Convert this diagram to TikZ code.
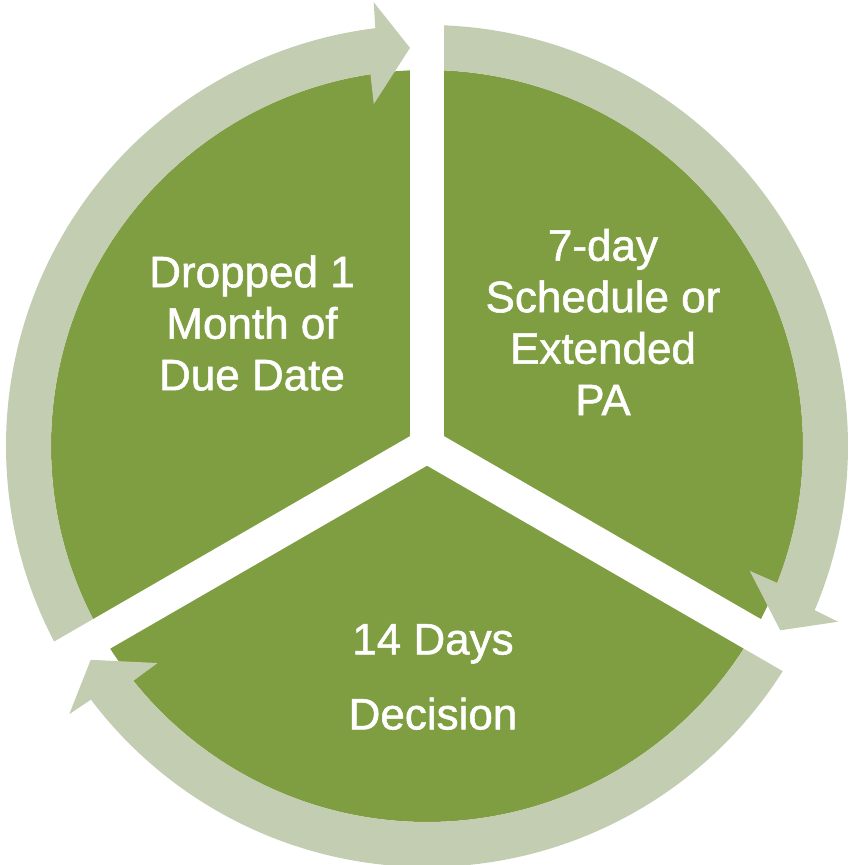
\documentclass[tikz,border=0pt]{standalone}
\usepackage{fontspec}
\setmainfont{Liberation Sans}
\newfontfamily\labelfont{Liberation Sans}[FakeBold=1.2]
\definecolor{cyclegreen}{RGB}{127, 158, 65}
\definecolor{ringgray}{RGB}{194, 205, 178}
\usepackage{tikz}
\usetikzlibrary{calc}

\begin{document}
\begin{tikzpicture}[x=1pt, y=1pt,
  ringarrow/.style={fill=ringgray, draw=none},
  gapline/.style={draw=white, line width=34pt},
  steplabel/.style={text=white, align=center, inner sep=0pt, font=\labelfont\fontsize{44}{51.5}\selectfont}]
  \useasboundingbox (-427,-419) rectangle (424,446);

  % Disc
  \fill[cyclegreen] (0,0) circle[radius=376pt];

  % Ring arrows (clockwise)
  \fill[ringarrow] (89:421pt) arc[start angle=89, end angle=-22.95, radius=421pt]
    -- (-23.15:447pt) -- (-27.55:398.5pt) -- (-21.15:346pt) -- (-21.35:376pt)
    arc[start angle=-21.35, end angle=89, radius=376pt] -- cycle;
  \fill[ringarrow] (-31:421pt) arc[start angle=-31, end angle=-142.95, radius=421pt]
    -- (-143.15:447pt) -- (-147.55:398.5pt) -- (-141.15:346pt) -- (-141.35:376pt)
    arc[start angle=-141.35, end angle=-31, radius=376pt] -- cycle;
  \fill[ringarrow] (-151:421pt) arc[start angle=-151, end angle=-262.95, radius=421pt]
    -- (-263.15:447pt) -- (-267.55:398.5pt) -- (-261.15:346pt) -- (-261.35:376pt)
    arc[start angle=-261.35, end angle=-151, radius=376pt] -- cycle;

  % Gaps between the sectors
  \draw[gapline] (0,0) -- (90:470pt);
  \draw[gapline] (0,0) -- (-30:470pt);
  \draw[gapline] (0,0) -- (210:470pt);

  % Labels
  \node[steplabel] (dropped) at (-175,123) {Dropped 1\\Month of\\Due Date};
  \node[steplabel] (schedule) at (176,124) {7-day\\Schedule or\\Extended\\PA};
  \node[steplabel, font=\labelfont\fontsize{44}{75}\selectfont] (decision) at (6,-231) {14 Days\\Decision};
\end{tikzpicture}
\end{document}
